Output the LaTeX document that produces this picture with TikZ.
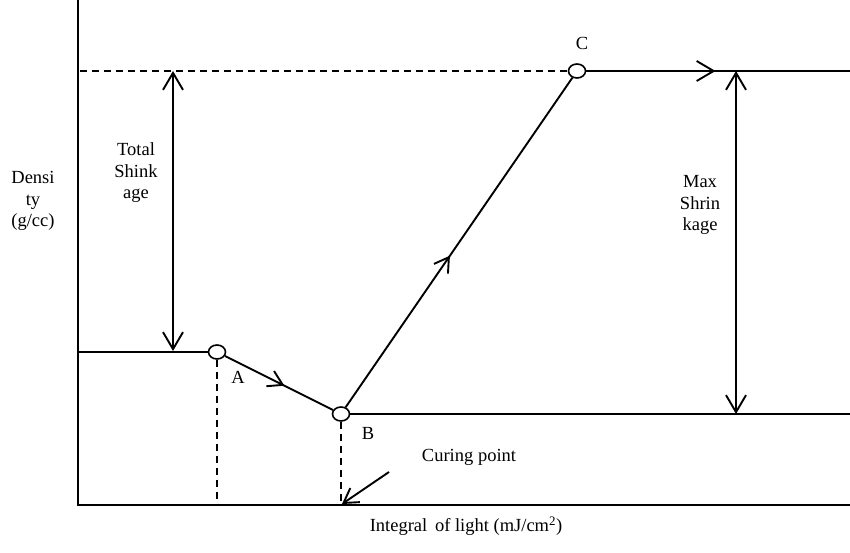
\documentclass[tikz,border=0pt]{standalone}
\usepackage{fontspec}
\setmainfont{Liberation Serif}
\usetikzlibrary{arrows.meta,shapes.geometric,decorations.markings}
\tikzset{
  ln/.style={line width=1.9pt},
  dsh/.style={line width=1.9pt,dash pattern=on 7pt off 5pt},
  bigtip/.tip={Straight Barb[length=17pt,width=20pt,line width=1.9pt]},
  smalltip/.tip={Straight Barb[length=14pt,width=17pt,line width=1.9pt]},
  pt/.style={ellipse,draw,line width=1.6pt,fill=white,minimum width=17pt,minimum height=14pt,inner sep=0pt},
  lbl/.style={font=\fontsize{18.5}{21.5}\selectfont,align=center,inner sep=0pt},
  midarrow/.style={postaction={decorate},decoration={markings,mark=at position #1 with {\arrow{smalltip}}}},
  midbig/.style={postaction={decorate},decoration={markings,mark=at position #1 with {\arrow{bigtip}}}}
}
\begin{document}
\begin{tikzpicture}[x=1pt,y=-1pt]
\useasboundingbox (0,0) rectangle (850,553);
% axes
\coordinate (ytop) at (78,0);
\coordinate (O) at (78,505);
\coordinate (xend) at (850,505);
\draw[ln] (ytop) -- (O) -- (xend);
% points
\node[pt] (A) at (217,352) {};
\node[pt] (B) at (341,414) {};
\node[pt] (C) at (577,71) {};
% levels
\coordinate (L0) at (78,352);
\coordinate (Dtop) at (80,71);
\coordinate (Cend) at (850,71);
\coordinate (Bend) at (850,414);
\draw[ln] (L0) -- (A);
\draw[dsh] (Dtop) -- (C);
\draw[ln,midbig=0.49] (C) -- (Cend);
\draw[ln] (B) -- (Bend);
\draw[ln,midarrow=0.55] (A) -- (B);
\draw[ln,midarrow=0.46] (B) -- (C);
% dashed drops
\coordinate (Ax) at (217,505);
\coordinate (Bx) at (341,505);
\draw[dsh] (A) -- (Ax);
\draw[dsh] (B) -- (Bx);
% shrinkage arrows
\coordinate (T1) at (173,71);
\coordinate (T2) at (173,351);
\draw[ln,{bigtip}-{bigtip}] (T1) -- (T2);
\coordinate (M1) at (736,71);
\coordinate (M2) at (736,414);
\draw[ln,{bigtip}-{bigtip}] (M1) -- (M2);
% curing point arrow
\coordinate (cp0) at (389,472);
\coordinate (cp1) at (342,504);
\draw[ln,-{smalltip}] (cp0) -- (cp1);
% labels
\node[lbl] (ylab) at (33,201) {Densi\\ty\\(g/cc)};
\node[lbl] (tslab) at (136,173) {Total\\Shink\\age};
\node[lbl] (mslab) at (700,205) {Max\\Shrin\\kage};
\node[lbl] (Alab) at (238,377) {A};
\node[lbl] (Blab) at (368,433) {B};
\node[lbl] (Clab) at (582,43) {C};
\node[lbl] (cplab) at (469,457) {Curing point};
\node[lbl] (xlab) at (466,526) {Integral\, of light (mJ/cm\textsuperscript{2})};
\end{tikzpicture}
\end{document}
